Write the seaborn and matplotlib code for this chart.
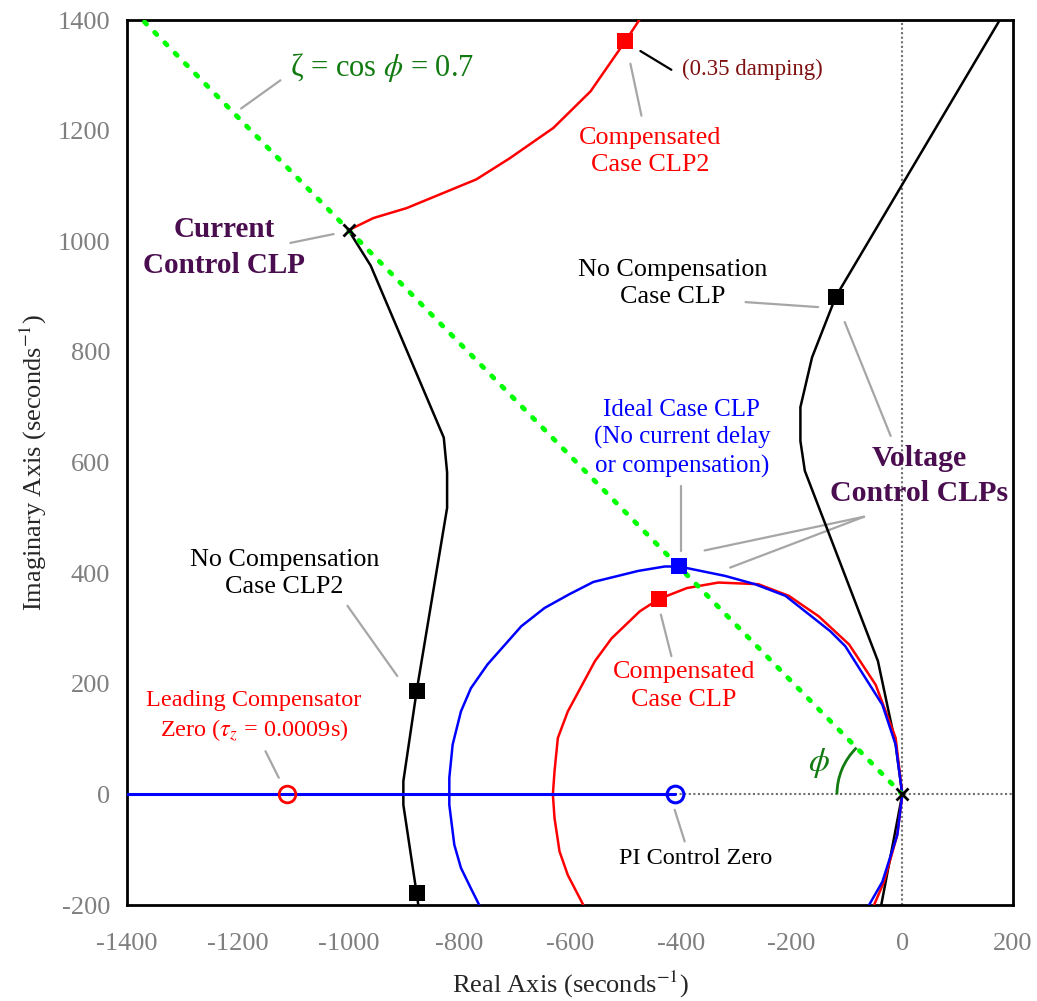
import numpy as np
import pandas as pd
import matplotlib
matplotlib.use('Agg')
import matplotlib.pyplot as plt
from matplotlib.patches import Arc
import seaborn as sns

# Root locus data (seconds^-1)
current_x = [-1000, -960, -828, -822, -822, -877, -901, -901, -877, -874]
current_y = [1020, 956, 645, 582, 518, 187, 24, -19, -179, -200]

voltage_x = [176, -120, -163, -184, -184, -176, -44, -12, 0, -38]
voltage_y = [1400, 900, 790, 700, 639, 585, 241, 90, 0, -200]

comp_top_x = [-1000, -955, -895, -769, -709, -630, -563, -500, -475]
comp_top_y = [1020, 1042, 1060, 1112, 1150, 1205, 1271, 1362, 1400]

comp_x = [-576, -604, -619, -628, -631, -628, -622, -604, -555, -525, -474, -440,
          -389, -332, -260, -205, -151, -96, -48, -12, 0, -9, -33, -51]
comp_y = [-200, -146, -103, -43, 0, 42, 102, 150, 241, 282, 331, 353,
          373, 383, 380, 359, 322, 271, 198, 102, 0, -73, -158, -200]

ideal_x = [-764, -779, -797, -809, -818, -818, -812, -797, -779, -749, -688, -646,
           -601, -558, -477, -429, -403, -320, -266, -211, -130, -103, -36, -12,
           0, -9, -36, -60]
ideal_y = [-200, -170, -133, -91, -19, 30, 90, 150, 192, 235, 304, 337,
           362, 384, 404, 412, 412, 395, 380, 359, 295, 268, 162, 90,
           0, -73, -158, -200]

real_axis_x = [-1400, -410]
real_axis_y = [0, 0]

zeta_x = [0, -1372]
zeta_y = [0, 1400]

# marked closed-loop poles
black_sq_x = [-120, -877, -877]
black_sq_y = [900, 187, -179]
red_sq_x = [-500, -440]
red_sq_y = [1362, 353]
blue_sq_x = [-403]
blue_sq_y = [412]
open_loop_x = [-1000, 0]
open_loop_y = [1020, 0]
lead_zero = (-1111, 0)
pi_zero = (-410, 0)

xticks = list(range(-1400, 201, 200))
yticks = list(range(-200, 1401, 200))

sns.set_style('white')
plt.rcParams['font.family'] = ['Liberation Serif', 'DejaVu Serif']
plt.rcParams['mathtext.fontset'] = 'stix'
plt.rcParams['axes.unicode_minus'] = False

RED = '#FF0000'
BLUE = '#0000FF'
PURPLE = '#4A0D4F'
GREEN_TXT = '#117A11'
LEAD = '#A6A6A6'

fig = plt.figure(figsize=(10.37, 10.01), dpi=100)
ax = fig.add_axes([0.1225, 0.0959, 0.8544, 0.8841])

# reference dotted axes
ax.axvline(0, color='#707070', lw=1.5, ls=(0, (1, 1.2)), zorder=1)
ax.plot([pi_zero[0], 200], [0, 0], color='#707070', lw=1.5, ls=(0, (1, 1.2)), zorder=1)

sns.lineplot(x=current_x, y=current_y, sort=False, estimator=None, color='black', lw=1.8, ax=ax, zorder=3)
sns.lineplot(x=voltage_x, y=voltage_y, sort=False, estimator=None, color='black', lw=1.8, ax=ax, zorder=3)
sns.lineplot(x=comp_top_x, y=comp_top_y, sort=False, estimator=None, color=RED, lw=1.8, ax=ax, zorder=3)
sns.lineplot(x=comp_x, y=comp_y, sort=False, estimator=None, color=RED, lw=1.8, ax=ax, zorder=3)
sns.lineplot(x=ideal_x, y=ideal_y, sort=False, estimator=None, color=BLUE, lw=1.8, ax=ax, zorder=4)
sns.lineplot(x=real_axis_x, y=real_axis_y, sort=False, estimator=None, color=BLUE, lw=2.2, ax=ax, zorder=4)

# damping line
ax.plot(zeta_x, zeta_y, color='#00FF00', lw=3.5, ls=(0, (0.6, 2.4)),
        dash_capstyle='round', zorder=5)
ax.add_patch(Arc((0, 0), 236, 236, theta1=134.4, theta2=180, color='#117A11', lw=2, zorder=5))

# markers
sns.scatterplot(x=black_sq_x, y=black_sq_y, marker='s', s=120, color='black', linewidth=0, ax=ax, zorder=6)
sns.scatterplot(x=red_sq_x, y=red_sq_y, marker='s', s=120, color=RED, linewidth=0, ax=ax, zorder=6)
sns.scatterplot(x=blue_sq_x, y=blue_sq_y, marker='s', s=120, color=BLUE, linewidth=0, ax=ax, zorder=6)
ax.plot(open_loop_x, open_loop_y, ls='none', marker='x', ms=8, mew=2, color='black', zorder=7)
ax.plot(*lead_zero, ls='none', marker='o', ms=12, mfc='none', mec=RED, mew=2, zorder=7)
ax.plot(*pi_zero, ls='none', marker='o', ms=12, mfc='none', mec=BLUE, mew=2.2, zorder=7)

# leader lines
leaders = [
    ([-1123, -1194], [1291, 1240], LEAD),
    ([-1105, -1027], [997, 1013], LEAD),
    ([-473, -417], [1344, 1310], 'black'),
    ([-491, -471], [1321, 1227], LEAD),
    ([-283, -152], [890, 881], LEAD),
    ([-400, -400], [558, 440], LEAD),
    ([-21, -104], [648, 854], LEAD),
    ([-69, -357], [502, 441], LEAD),
    ([-69, -311], [502, 410], LEAD),
    ([-1002, -912], [341, 214], LEAD),
    ([-1150, -1126], [78, 30], LEAD),
    ([-436, -417], [325, 250], LEAD),
    ([-411, -393], [-28, -85], LEAD),
]
for lx, ly, c in leaders:
    ax.plot(lx, ly, color=c, lw=1.6, zorder=2)

# annotations
fs = 18.8
ls = 1.3
ax.text(-939, 1315, 'ζ = cos $\\phi$ = 0.7', color=GREEN_TXT, fontsize=22, ha='center', va='center')
ax.text(-1224, 989, 'Current\nControl CLP', color=PURPLE, fontsize=21, fontweight='bold',
        ha='center', va='center', linespacing=1.4)
ax.text(-270, 1311, '(0.35 damping)', color='#7F1010', fontsize=16.5, ha='center', va='center')
ax.text(-456, 1163, 'Compensated\nCase CLP2', color=RED, fontsize=fs, ha='center', va='center', linespacing=ls)
ax.text(-415, 924, 'No Compensation\nCase CLP', color='black', fontsize=fs, ha='center', va='center', linespacing=ls)
ax.text(-398, 644, 'Ideal Case CLP\n(No current delay\nor compensation)', color=BLUE, fontsize=18,
        ha='center', va='center', linespacing=ls)
ax.text(31, 576, 'Voltage\nControl CLPs', color=PURPLE, fontsize=21.5, fontweight='bold',
        ha='center', va='center', linespacing=1.4)
ax.text(-1116, 400, 'No Compensation\nCase CLP2', color='black', fontsize=fs, ha='center', va='center', linespacing=ls)
ax.text(-1171, 141, 'Leading Compensator\nZero ($\\tau_z$ = 0.0009s)', color=RED, fontsize=17.5,
        ha='center', va='center', linespacing=ls)
ax.text(-394, 196, 'Compensated\nCase CLP', color=RED, fontsize=fs, ha='center', va='center', linespacing=ls)
ax.text(-373, -116, 'PI Control Zero', color='black', fontsize=17.5, ha='center', va='center')
ax.text(-151, 57, r'$\phi$', color=GREEN_TXT, fontsize=24, ha='center', va='center')

ax.set_xlim(-1400, 200)
ax.set_ylim(-200, 1400)
ax.set_xticks(xticks)
ax.set_yticks(yticks)
ax.tick_params(axis='both', length=0, labelsize=19, labelcolor='#7F7F7F')
ax.tick_params(axis='x', pad=20)
ax.tick_params(axis='y', pad=12)
ax.set_xlabel('Real Axis (seconds$^{-1}$)', fontsize=19, labelpad=10)
ax.set_ylabel('Imaginary Axis (seconds$^{-1}$)', fontsize=19, labelpad=6)
for sp in ax.spines.values():
    sp.set_color('black')
    sp.set_linewidth(2)

fig.savefig('out.png', dpi=100)
